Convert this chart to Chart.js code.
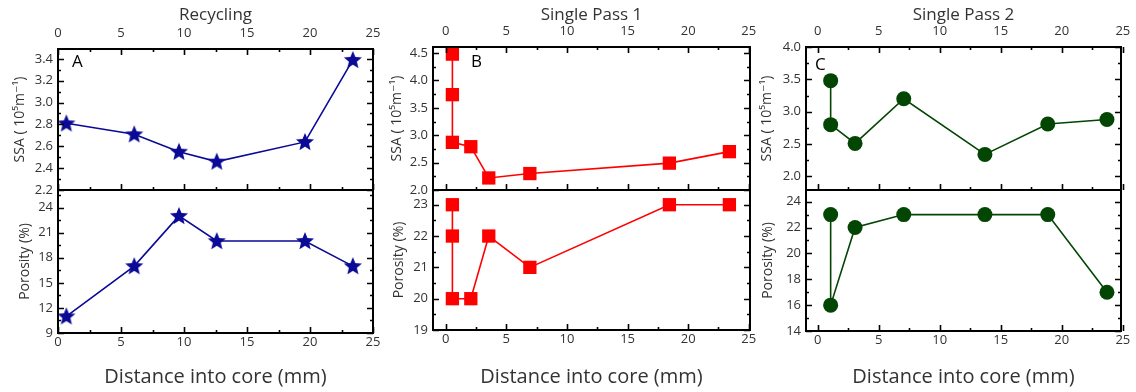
<!DOCTYPE html>
<html>
<head>
<meta charset="utf-8">
<script src="https://cdn.jsdelivr.net/npm/chart.js@4.4.1/dist/chart.umd.min.js"></script>
<style>
  body { margin: 0; background: #fff; width: 1136px; height: 392px; position: relative; overflow: hidden; }
  canvas { position: absolute; }
</style>
</head>
<body>
<canvas id="aTop"></canvas><canvas id="aBot"></canvas>
<canvas id="bTop"></canvas><canvas id="bBot"></canvas>
<canvas id="cTop"></canvas><canvas id="cBot"></canvas>
<script>
// ---- data ----
const recX = [0.66, 6.05, 9.6, 12.6, 19.6, 23.4];
const recSSA = [2.81, 2.71, 2.55, 2.46, 2.64, 3.39];
const recPor = [11, 17, 23, 20, 20, 17];

const sp1X = [0.55, 0.55, 0.55, 2.07, 3.55, 6.94, 18.45, 23.4];
const sp1SSA = [4.48, 3.74, 2.87, 2.79, 2.22, 2.30, 2.49, 2.70];
const sp1Por = [23, 22, 20, 20, 22, 21, 23, 23];

const sp2X = [1.06, 1.06, 3.06, 7.05, 13.7, 18.85, 23.7];
const sp2SSA = [3.48, 2.80, 2.51, 3.20, 2.34, 2.81, 2.88];
const sp2Por = [23, 16, 22, 23, 23, 23, 17];

// tick labels
const xTicks = [0, 5, 10, 15, 20, 25];
const recSSATicks = [2.2, 2.4, 2.6, 2.8, 3.0, 3.2, 3.4];
const recPorTicks = [9, 12, 15, 18, 21, 24];
const sp1SSATicks = [2.0, 2.5, 3.0, 3.5, 4.0, 4.5];
const sp1PorTicks = [19, 20, 21, 22, 23];
const sp2SSATicks = [2.0, 2.5, 3.0, 3.5, 4.0];
const sp2PorTicks = [14, 16, 18, 20, 22, 24];

const FONT = "'Open Sans', 'DejaVu Sans', sans-serif";
const TXT = '#333';

// star marker for the recycling panel
function starImage(color) {
  const c = document.createElement('canvas');
  c.width = 20; c.height = 20;
  const g = c.getContext('2d');
  g.fillStyle = color;
  g.beginPath();
  for (let i = 0; i < 10; i++) {
    const r = i % 2 ? 4.2 : 9.5;
    const a = -Math.PI / 2 + i * Math.PI / 5;
    g.lineTo(10 + r * Math.cos(a), 10.5 + r * Math.sin(a));
  }
  g.closePath();
  g.fill();
  return c;
}

function minors(majors, min, max) {
  const step = majors[1] - majors[0];
  const out = [];
  for (let v = majors[0] - step / 2; v <= max + 1e-9; v += step) {
    if (v >= min - 1e-9) out.push(v);
  }
  return out;
}

// inward ticks, frame and panel letter
const framePlugin = {
  id: 'frame',
  afterDraw(chart, args, o) {
    const { ctx, chartArea: a, scales: { x, y } } = chart;
    ctx.save();
    ctx.strokeStyle = '#000';
    ctx.lineWidth = 1.6;
    const xs = (vals, len) => vals.forEach(v => {
      const p = Math.round(x.getPixelForValue(v)) + 0.5;
      ctx.beginPath();
      if (o.top) { ctx.moveTo(p, a.top); ctx.lineTo(p, a.top + len); }
      if (o.bottom) { ctx.moveTo(p, a.bottom); ctx.lineTo(p, a.bottom - len); }
      ctx.stroke();
    });
    const ys = (vals, len) => vals.forEach(v => {
      const p = Math.round(y.getPixelForValue(v)) + 0.5;
      ctx.beginPath();
      ctx.moveTo(a.left, p); ctx.lineTo(a.left + len, p);
      ctx.moveTo(a.right, p); ctx.lineTo(a.right - len, p);
      ctx.stroke();
    });
    xs(o.xMajor, 6);
    xs(minors(o.xMajor, x.min, x.max), 3);
    ys(o.yMajor, 6);
    ys(minors(o.yMajor, y.min, y.max), 3);
    ctx.lineWidth = 2;
    ctx.strokeRect(a.left, a.top, a.right - a.left, a.bottom - a.top);
    if (o.letter) {
      ctx.fillStyle = '#000';
      ctx.font = '17px ' + FONT;
      ctx.textBaseline = 'middle';
      ctx.fillText(o.letter, a.left + o.lx, a.top + o.ly);
    }
    ctx.restore();
  }
};

const PAD = 20; // room for labels that overhang the plot area

function panel(id, p) {
  const cv = document.getElementById(id);
  const isTop = p.top;
  const left = p.chartLeft - 58;
  const cTop = isTop ? 0 : 190 - PAD;
  cv.style.left = left + 'px';
  cv.style.top = cTop + 'px';
  cv.width = p.chartRight - left + PAD;
  cv.height = isTop ? 190 + PAD : 392 - cTop;
  const axisH = isTop ? p.chartTop : 392 - p.chartBottom;

  new Chart(cv, {
    type: 'line',
    data: {
      datasets: [{
        data: p.xs.map((v, i) => ({ x: v, y: p.ys[i] })),
        borderColor: p.color,
        backgroundColor: p.color,
        pointBackgroundColor: p.color,
        pointBorderColor: p.color,
        borderWidth: 1.6,
        pointStyle: p.marker,
        pointRadius: p.radius,
        pointBorderWidth: 0,
        tension: 0,
        clip: false
      }]
    },
    options: {
      responsive: false,
      animation: false,
      layout: { padding: { left: 0, right: PAD, top: isTop ? 0 : PAD, bottom: isTop ? PAD : 0 } },
      plugins: {
        legend: { display: false },
        tooltip: { enabled: false },
        frame: {
          top: isTop, bottom: true,
          xMajor: xTicks, yMajor: p.yTicks,
          letter: p.letter, lx: p.lx, ly: p.ly
        }
      },
      scales: {
        x: {
          type: 'linear',
          position: isTop ? 'top' : 'bottom',
          min: p.xMin, max: p.xMax,
          grid: { display: false, drawTicks: false },
          border: { display: false },
          ticks: { font: { family: FONT, size: 13 }, color: TXT, padding: isTop ? 8 : 1, maxRotation: 0, autoSkip: false },
          title: {
            display: true,
            text: isTop ? p.title : 'Distance into core (mm)',
            font: { family: FONT, size: isTop ? 17 : 20 },
            color: TXT,
            padding: isTop ? { top: 5, bottom: 0 } : { top: 0, bottom: 3 }
          },
          afterBuildTicks: s => { s.ticks = xTicks.map(v => ({ value: v })); },
          afterFit: s => { s.height = axisH; s.paddingLeft = 0; s.paddingRight = 0; }
        },
        y: {
          position: 'left',
          min: p.yMin, max: p.yMax,
          grid: { display: false, drawTicks: false },
          border: { display: false },
          ticks: {
            font: { family: FONT, size: 13 }, color: TXT, padding: 5, autoSkip: false,
            callback: v => v.toFixed(p.dec)
          },
          title: {
            display: true,
            text: isTop ? 'SSA ( 10\u2075m\u207B\u00B9)' : 'Porosity (%)',
            font: { family: FONT, size: 14 },
            color: TXT,
            padding: { top: p.titlePad, bottom: 0 }
          },
          afterBuildTicks: s => { s.ticks = p.yTicks.map(v => ({ value: v })); },
          afterFit: s => { s.width = 58; s.paddingTop = 0; s.paddingBottom = 0; }
        }
      }
    },
    plugins: [framePlugin]
  });
}

const navy = '#0a0a96', red = '#ff0000', green = '#034503';
const star = starImage(navy);

panel('aTop', { top: true, chartLeft: 58, chartRight: 373, chartTop: 49, xMin: 0, xMax: 25,
  xs: recX, ys: recSSA, yMin: 2.2, yMax: 3.49, yTicks: recSSATicks, dec: 1,
  color: navy, marker: star, radius: 8, title: 'Recycling', letter: 'A', lx: 14, ly: 13, titlePad: 12 });
panel('aBot', { top: false, chartLeft: 58, chartRight: 373, chartBottom: 333, xMin: 0, xMax: 25,
  xs: recX, ys: recPor, yMin: 9, yMax: 26.1, yTicks: recPorTicks, dec: 0,
  color: navy, marker: star, radius: 8, titlePad: 17 });

panel('bTop', { top: true, chartLeft: 433, chartRight: 750, chartTop: 47, xMin: -1.05, xMax: 25.1,
  xs: sp1X, ys: sp1SSA, yMin: 2.0, yMax: 4.61, yTicks: sp1SSATicks, dec: 1,
  color: red, marker: 'rect', radius: 9.4, title: 'Single Pass 1', letter: 'B', lx: 38, ly: 15, titlePad: 14 });
panel('bBot', { top: false, chartLeft: 433, chartRight: 750, chartBottom: 330, xMin: -1.05, xMax: 25.1,
  xs: sp1X, ys: sp1Por, yMin: 19, yMax: 23.47, yTicks: sp1PorTicks, dec: 0,
  color: red, marker: 'rect', radius: 9.4, titlePad: 16 });

panel('cTop', { top: true, chartLeft: 806, chartRight: 1121, chartTop: 47, xMin: -0.96, xMax: 24.85,
  xs: sp2X, ys: sp2SSA, yMin: 1.79, yMax: 4.0, yTicks: sp2SSATicks, dec: 1,
  color: green, marker: 'circle', radius: 7.5, title: 'Single Pass 2', letter: 'C', lx: 9, ly: 18, titlePad: 11 });
panel('cBot', { top: false, chartLeft: 806, chartRight: 1121, chartBottom: 331, xMin: -0.96, xMax: 24.85,
  xs: sp2X, ys: sp2Por, yMin: 14, yMax: 24.9, yTicks: sp2PorTicks, dec: 0,
  color: green, marker: 'circle', radius: 7.5, titlePad: 12 });
</script>
</body>
</html>
